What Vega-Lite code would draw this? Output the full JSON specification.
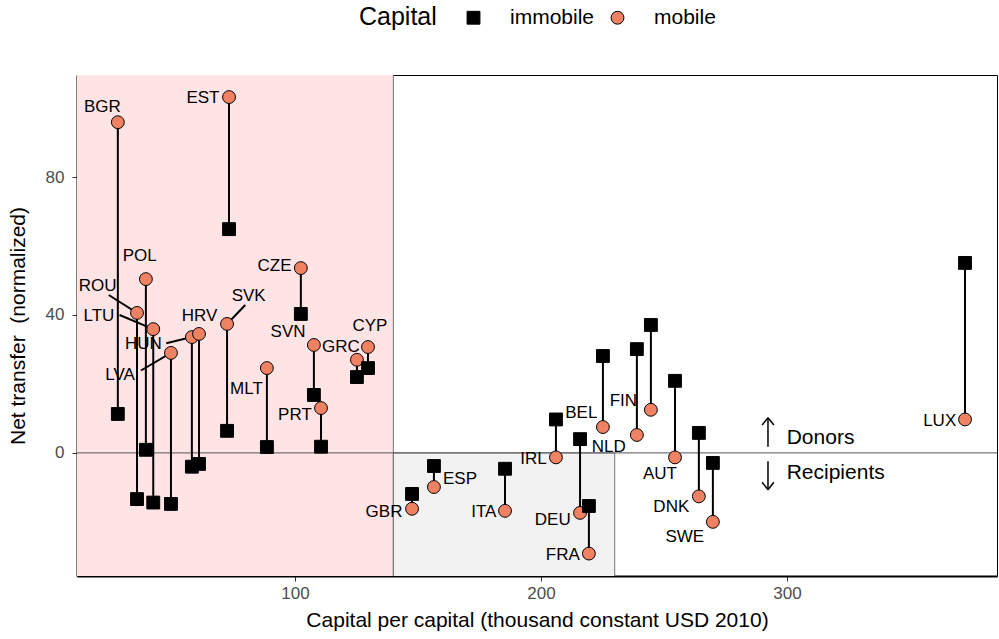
{
  "$schema": "https://vega.github.io/schema/vega-lite/v6.json",
  "width": 920,
  "height": 501,
  "autosize": {"type": "none"},
  "padding": {"left": 77, "top": 75, "right": 2, "bottom": 63},
  "background": "white",
  "config": {
    "font": "Liberation Sans",
    "view": {"stroke": "black", "strokeWidth": 1},
    "axis": {
      "grid": false,
      "domainColor": "black",
      "domainWidth": 2,
      "tickColor": "#333333",
      "tickSize": 5,
      "labelPadding": 4,
      "labelColor": "#4D4D4D",
      "labelFontSize": 17,
      "labelFont": "Liberation Sans",
      "titleFont": "Liberation Sans",
      "titleFontSize": 21,
      "titleFontWeight": "normal",
      "titleColor": "black"
    },
    "axisY": {"labelPadding": 8, "titlePadding": 17},
    "legend": {
      "labelFont": "Liberation Sans",
      "titleFont": "Liberation Sans",
      "titleFontWeight": "normal"
    }
  },
  "datasets": {
    "pts": [
      {"country": "BGR", "x": 28.0, "immobile": 11.3, "mobile": 95.9},
      {"country": "EST", "x": 73.2, "immobile": 64.9, "mobile": 103.2},
      {"country": "POL", "x": 39.4, "immobile": 0.9, "mobile": 50.4},
      {"country": "ROU", "x": 35.8, "immobile": -13.4, "mobile": 40.6},
      {"country": "LTU", "x": 42.4, "immobile": -14.4, "mobile": 35.9},
      {"country": "LVA", "x": 49.6, "immobile": -14.8, "mobile": 29.0},
      {"country": "HUN", "x": 58.1, "immobile": -4.0, "mobile": 33.6},
      {"country": "HRV", "x": 61.0, "immobile": -3.2, "mobile": 34.5},
      {"country": "SVK", "x": 72.4, "immobile": 6.4, "mobile": 37.4},
      {"country": "MLT", "x": 88.6, "immobile": 1.7, "mobile": 24.6},
      {"country": "CZE", "x": 102.4, "immobile": 40.3, "mobile": 53.6},
      {"country": "SVN", "x": 107.7, "immobile": 16.8, "mobile": 31.3},
      {"country": "PRT", "x": 110.6, "immobile": 1.8, "mobile": 13.0},
      {"country": "GRC", "x": 125.2, "immobile": 22.0, "mobile": 27.0},
      {"country": "CYP", "x": 129.7, "immobile": 24.6, "mobile": 30.7},
      {"country": "GBR", "x": 147.6, "immobile": -11.9, "mobile": -16.2},
      {"country": "ESP", "x": 156.5, "immobile": -3.8, "mobile": -9.9},
      {"country": "ITA", "x": 185.4, "immobile": -4.6, "mobile": -16.8},
      {"country": "IRL", "x": 206.1, "immobile": 9.7, "mobile": -1.3},
      {"country": "DEU", "x": 215.9, "immobile": 4.0, "mobile": -17.4},
      {"country": "FRA", "x": 219.5, "immobile": -15.4, "mobile": -29.2},
      {"country": "BEL", "x": 225.2, "immobile": 28.1, "mobile": 7.5},
      {"country": "NLD", "x": 239.0, "immobile": 30.1, "mobile": 5.2},
      {"country": "FIN", "x": 244.7, "immobile": 37.1, "mobile": 12.5},
      {"country": "AUT", "x": 254.5, "immobile": 20.9, "mobile": -1.3},
      {"country": "DNK", "x": 264.2, "immobile": 5.8, "mobile": -12.6},
      {"country": "SWE", "x": 269.9, "immobile": -2.9, "mobile": -20.0},
      {"country": "LUX", "x": 372.4, "immobile": 55.1, "mobile": 9.7}
    ],
    "labels": [
      {"country": "BGR", "x": 21.7, "y": 100.2},
      {"country": "EST", "x": 62.6, "y": 102.8},
      {"country": "POL", "x": 36.9, "y": 57.2},
      {"country": "ROU", "x": 19.8, "y": 48.5},
      {"country": "LTU", "x": 20.3, "y": 39.8},
      {"country": "HUN", "x": 38.4, "y": 31.6},
      {"country": "LVA", "x": 28.9, "y": 22.6},
      {"country": "HRV", "x": 61.2, "y": 39.8},
      {"country": "SVK", "x": 81.2, "y": 45.6},
      {"country": "CZE", "x": 91.7, "y": 54.3},
      {"country": "SVN", "x": 97.2, "y": 35.2},
      {"country": "MLT", "x": 80.3, "y": 18.5},
      {"country": "PRT", "x": 100.0, "y": 11.0},
      {"country": "GRC", "x": 118.7, "y": 30.8},
      {"country": "CYP", "x": 130.5, "y": 36.8},
      {"country": "GBR", "x": 136.2, "y": -17.1},
      {"country": "ESP", "x": 167.1, "y": -7.6},
      {"country": "ITA", "x": 176.8, "y": -17.0},
      {"country": "IRL", "x": 197.0, "y": -1.8},
      {"country": "DEU", "x": 204.8, "y": -19.6},
      {"country": "FRA", "x": 208.9, "y": -29.6},
      {"country": "BEL", "x": 216.4, "y": 11.5},
      {"country": "NLD", "x": 227.6, "y": 1.8},
      {"country": "FIN", "x": 233.5, "y": 15.1},
      {"country": "AUT", "x": 248.4, "y": -6.1},
      {"country": "DNK", "x": 253.0, "y": -15.6},
      {"country": "SWE", "x": 258.5, "y": -24.3},
      {"country": "LUX", "x": 362.1, "y": 9.3}
    ],
    "repel": [
      {"x": 24.3, "y": 45.8, "x2": 35.8, "y2": 40.6},
      {"x": 28.7, "y": 40.0, "x2": 42.4, "y2": 35.9},
      {"x": 47.7, "y": 31.8, "x2": 58.1, "y2": 33.6},
      {"x": 37.4, "y": 23.9, "x2": 49.6, "y2": 29.0},
      {"x": 79.8, "y": 42.9, "x2": 72.4, "y2": 37.4}
    ],
    "arrows": [
      {"x": 292.3, "y": 1.8, "x2": 292.3, "y2": 10.2},
      {"x": 289.9, "y": 8.1, "x2": 292.3, "y2": 10.2},
      {"x": 294.7, "y": 8.1, "x2": 292.3, "y2": 10.2},
      {"x": 292.3, "y": -2.4, "x2": 292.3, "y2": -10.7},
      {"x": 289.9, "y": -8.5, "x2": 292.3, "y2": -10.7},
      {"x": 294.7, "y": -8.5, "x2": 292.3, "y2": -10.7}
    ],
    "annot": [
      {"x": 299.9, "y": 4.3, "text": "Donors"},
      {"x": 299.9, "y": -5.9, "text": "Recipients"}
    ],
    "regions": [
      {"x": 0, "x2": 140, "y": -60, "y2": 150, "zone": "low"},
      {"x": 140, "x2": 230, "y": -60, "y2": 0, "zone": "mid"}
    ]
  },
  "layer": [
    {
      "data": {"name": "regions"},
      "mark": {"type": "rect", "clip": true, "stroke": "#555555", "strokeWidth": 0.8},
      "encoding": {
        "x": {"field": "x", "type": "quantitative", "scale": {"domain": [11.4, 385.4], "nice": false, "zero": false},
          "axis": {"values": [100, 200, 300], "title": "Capital per capital (thousand constant USD 2010)", "titlePadding": 8}},
        "x2": {"field": "x2"},
        "y": {"field": "y", "type": "quantitative", "scale": {"domain": [-35.7, 109.6], "nice": false, "zero": false},
          "axis": {"values": [0, 40, 80], "title": "Net transfer\u00a0 (normalized)"}},
        "y2": {"field": "y2"},
        "color": {"field": "zone", "type": "nominal", "scale": {"domain": ["low", "mid"], "range": ["#FFE4E6", "#F2F2F2"]}, "legend": null}
      }
    },
    {
      "data": {"values": [{"y": 0}]},
      "mark": {"type": "rule", "color": "#555555", "strokeWidth": 1},
      "encoding": {
        "y": {"field": "y", "type": "quantitative", "scale": {"domain": [-35.7, 109.6], "nice": false, "zero": false},
          "axis": {"values": [0, 40, 80], "title": "Net transfer\u00a0 (normalized)"}}
      }
    },
    {
      "data": {"name": "repel"},
      "mark": {"type": "rule", "color": "black", "strokeWidth": 2},
      "encoding": {
        "x": {"field": "x", "type": "quantitative", "scale": {"domain": [11.4, 385.4], "nice": false, "zero": false},
          "axis": {"values": [100, 200, 300], "title": "Capital per capital (thousand constant USD 2010)", "titlePadding": 8}},
        "x2": {"field": "x2"},
        "y": {"field": "y", "type": "quantitative", "scale": {"domain": [-35.7, 109.6], "nice": false, "zero": false},
          "axis": {"values": [0, 40, 80], "title": "Net transfer\u00a0 (normalized)"}},
        "y2": {"field": "y2"}
      }
    },
    {
      "data": {"name": "arrows"},
      "mark": {"type": "rule", "color": "black", "strokeWidth": 1.5},
      "encoding": {
        "x": {"field": "x", "type": "quantitative", "scale": {"domain": [11.4, 385.4], "nice": false, "zero": false},
          "axis": {"values": [100, 200, 300], "title": "Capital per capital (thousand constant USD 2010)", "titlePadding": 8}},
        "x2": {"field": "x2"},
        "y": {"field": "y", "type": "quantitative", "scale": {"domain": [-35.7, 109.6], "nice": false, "zero": false},
          "axis": {"values": [0, 40, 80], "title": "Net transfer\u00a0 (normalized)"}},
        "y2": {"field": "y2"}
      }
    },
    {
      "data": {"name": "pts"},
      "mark": {"type": "rule", "color": "black", "strokeWidth": 2},
      "encoding": {
        "x": {"field": "x", "type": "quantitative", "scale": {"domain": [11.4, 385.4], "nice": false, "zero": false},
          "axis": {"values": [100, 200, 300], "title": "Capital per capital (thousand constant USD 2010)", "titlePadding": 8}},
        "y": {"field": "immobile", "type": "quantitative", "scale": {"domain": [-35.7, 109.6], "nice": false, "zero": false},
          "axis": {"values": [0, 40, 80], "title": "Net transfer\u00a0 (normalized)"}},
        "y2": {"field": "mobile"}
      }
    },
    {
      "data": {"name": "pts"},
      "transform": [{"fold": ["immobile", "mobile"], "as": ["Capital", "y"]}],
      "mark": {"type": "point", "filled": true, "stroke": "black", "strokeWidth": 1, "size": 165, "opacity": 1},
      "encoding": {
        "x": {"field": "x", "type": "quantitative", "scale": {"domain": [11.4, 385.4], "nice": false, "zero": false},
          "axis": {"values": [100, 200, 300], "title": "Capital per capital (thousand constant USD 2010)", "titlePadding": 8}},
        "y": {"field": "y", "type": "quantitative", "scale": {"domain": [-35.7, 109.6], "nice": false, "zero": false},
          "axis": {"values": [0, 40, 80], "title": "Net transfer\u00a0 (normalized)"}},
        "fill": {"field": "Capital", "type": "nominal", "scale": {"domain": ["immobile", "mobile"], "range": ["black", "#EE8262"]},
          "legend": {"orient": "none", "legendX": 282, "legendY": -68, "direction": "horizontal", "titleOrient": "left", "title": "Capital",
            "titleFontSize": 25, "labelFontSize": 21, "titlePadding": 26, "labelOffset": 26, "columnPadding": 12, "symbolSize": 165,
            "symbolStrokeColor": "black", "symbolStrokeWidth": 1, "titleColor": "black", "labelColor": "black", "titleBaseline": "middle"}},
        "shape": {"field": "Capital", "type": "nominal", "scale": {"domain": ["immobile", "mobile"], "range": ["square", "circle"]}}
      }
    },
    {
      "data": {"name": "labels"},
      "mark": {"type": "text", "fontSize": 17, "align": "center", "baseline": "middle", "color": "black"},
      "encoding": {
        "x": {"field": "x", "type": "quantitative", "scale": {"domain": [11.4, 385.4], "nice": false, "zero": false},
          "axis": {"values": [100, 200, 300], "title": "Capital per capital (thousand constant USD 2010)", "titlePadding": 8}},
        "y": {"field": "y", "type": "quantitative", "scale": {"domain": [-35.7, 109.6], "nice": false, "zero": false},
          "axis": {"values": [0, 40, 80], "title": "Net transfer\u00a0 (normalized)"}},
        "text": {"field": "country"}
      }
    },
    {
      "data": {"name": "annot"},
      "mark": {"type": "text", "fontSize": 21, "align": "left", "baseline": "middle", "color": "black"},
      "encoding": {
        "x": {"field": "x", "type": "quantitative", "scale": {"domain": [11.4, 385.4], "nice": false, "zero": false},
          "axis": {"values": [100, 200, 300], "title": "Capital per capital (thousand constant USD 2010)", "titlePadding": 8}},
        "y": {"field": "y", "type": "quantitative", "scale": {"domain": [-35.7, 109.6], "nice": false, "zero": false},
          "axis": {"values": [0, 40, 80], "title": "Net transfer\u00a0 (normalized)"}},
        "text": {"field": "text"}
      }
    }
  ]
}
